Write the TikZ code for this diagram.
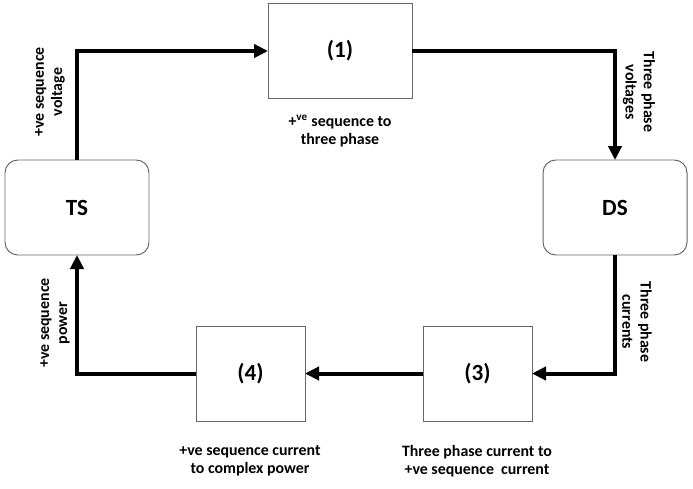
\documentclass[tikz,border=0pt]{standalone}
\usepackage{fontspec}
\setmainfont{Carlito}
\usepackage{tikz}
\usetikzlibrary{arrows.meta,positioning}

\begin{document}
\begin{tikzpicture}[
	block/.style={draw=black!60, line width=0.7pt, minimum width=3.6cm, minimum height=2.375cm,
		outer sep=0pt, align=center, font=\fontsize{16.5}{19}\selectfont\bfseries},
	sys/.style={block, rounded corners=0.32cm},
	conv/.style={block, minimum width=2.725cm},
	lbl/.style={align=center, font=\fontsize{11.3}{12.9}\selectfont\bfseries},
	arr/.style={-{Triangle[length=0.35cm, width=0.33cm]}, line width=0.1cm}
]
	\useasboundingbox (0, 0) rectangle (17.325, 12.2);

	% Systems
	\node[sys] (ts) at (1.925, 7.0125) {TS};
	\node[sys] (ds) at (15.375, 7.0125) {DS};

	% Conversion blocks
	\node[block] (one)   at (8.5, 10.925)     {(1)};
	\node[conv]  (three) at (11.9375, 2.8625) {(3)};
	\node[conv]  (four)  at (6.2625, 2.8625)  {(4)};

	% Block descriptions
	\node[lbl] (onetxt)   at (8.5, 8.925)   {+\textsuperscript{ve} sequence to\\three phase};
	\node[lbl] (threetxt) at (11.925, 0.675) {Three phase current to\\+ve sequence~~current};
	\node[lbl] (fourtxt)  at (6.25, 0.675)   {+ve sequence current\\to complex power};

	% Loop connectors
	\draw[arr] (ts.north) |- (one.west);
	\draw[arr] (one.east) -| (ds.north);
	\draw[arr] (ds.south) |- (three.east);
	\draw[arr] (three.west) -- (four.east);
	\draw[arr] (four.west) -| (ts.south);

	% Signal labels
	\node[lbl, rotate=90]  (vseq) at (1.25, 9.9)    {+ve sequence\\voltage};
	\node[lbl, rotate=-90] (vabc) at (15.975, 9.9)  {Three phase\\voltages};
	\node[lbl, rotate=-90] (iabc) at (15.925, 4.15) {Three phase\\currents};
	\node[lbl, rotate=90]  (pseq) at (1.375, 4.125) {+ve sequence\\power};
\end{tikzpicture}
\end{document}
